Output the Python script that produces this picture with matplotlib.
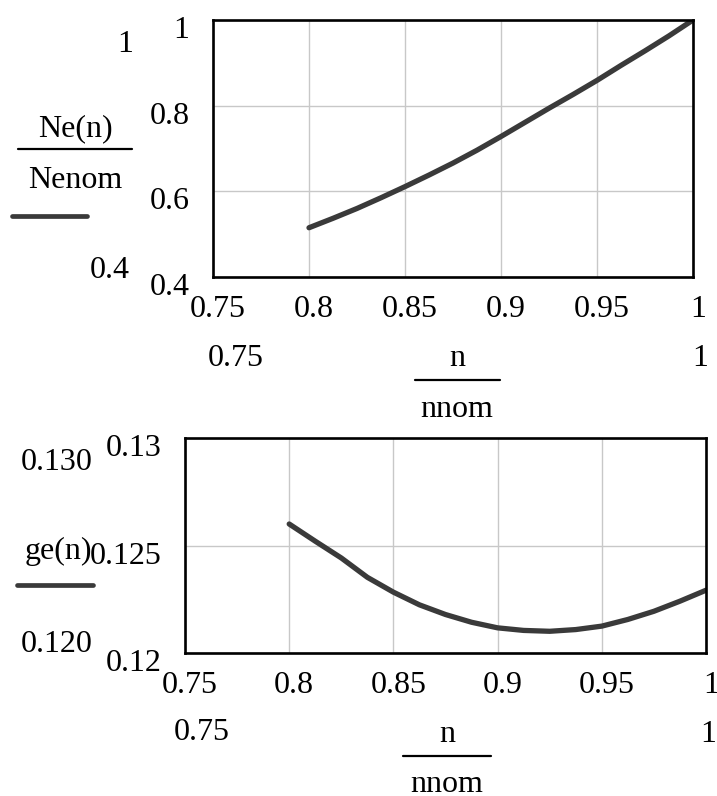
import matplotlib
matplotlib.use("Agg")
import matplotlib.pyplot as plt
from matplotlib.transforms import ScaledTranslation

# ---- data ----
n_rel = [0.8, 0.8125, 0.825, 0.8375, 0.85, 0.8625, 0.875, 0.8875, 0.9,
         0.9125, 0.925, 0.9375, 0.95, 0.9625, 0.975, 0.9875, 1.0]
ne_rel = [0.515, 0.537, 0.560, 0.585, 0.611, 0.638, 0.666, 0.696, 0.728,
          0.761, 0.794, 0.826, 0.859, 0.894, 0.928, 0.963, 1.000]
ge_vals = [0.12600, 0.12520, 0.12442, 0.12352, 0.12283, 0.12224, 0.12179, 0.12143, 0.12117,
           0.12105, 0.12101, 0.12109, 0.12125, 0.12156, 0.12194, 0.12241, 0.12292]

x_ticks = [0.75, 0.8, 0.85, 0.9, 0.95, 1.0]
x_ticklabels = ["0.75", "0.8", "0.85", "0.9", "0.95", "1"]
y1_ticks = [0.4, 0.6, 0.8, 1.0]
y1_ticklabels = ["0.4", "0.6", "0.8", "1"]
y2_ticks = [0.12, 0.125, 0.13]
y2_ticklabels = ["0.12", "0.125", "0.13"]

W, H, DPI = 717, 796, 100
plt.rcParams['font.family'] = ['Liberation Serif', 'DejaVu Serif']
FS = 23
LINE_C = "#3a3a3a"

fig = plt.figure(figsize=(W / DPI, H / DPI), dpi=DPI)


def px_axes(l, t, r, b):
    return fig.add_axes([l / W, 1 - b / H, (r - l) / W, (b - t) / H])


def ftext(x, y, s, **kw):
    fig.text(x / W, 1 - y / H, s, fontsize=FS, ha='center', va='center', **kw)


def fline(x0, x1, y, lw, color):
    fig.add_artist(plt.Line2D([x0 / W, x1 / W], [1 - y / H, 1 - y / H],
                              transform=fig.transFigure, lw=lw, color=color,
                              solid_capstyle='round'))


def style(ax, xt, xtl, yt, ytl, ylim):
    ax.set_xlim(0.75, 1.0)
    ax.set_ylim(*ylim)
    ax.set_xticks(xt)
    ax.set_xticklabels(xtl, fontsize=FS)
    ax.set_yticks(yt)
    ax.set_yticklabels(ytl, fontsize=FS)
    ax.tick_params(length=0)
    ax.tick_params(axis='x', pad=13)
    ax.tick_params(axis='y', pad=17)
    ax.grid(True, color="#c8c8c8", lw=1.0)
    ax.set_axisbelow(True)
    for sp in ax.spines.values():
        sp.set_linewidth(1.9)
        sp.set_color("black")
    for lab in ax.get_xticklabels():
        lab.set_transform(lab.get_transform() + ScaledTranslation(5 / DPI, 0, fig.dpi_scale_trans))
    for lab in ax.get_yticklabels():
        lab.set_transform(lab.get_transform() + ScaledTranslation(0, -7 / DPI, fig.dpi_scale_trans))


# ---- top chart ----
ax1 = px_axes(213, 20, 693, 277)
ax1.plot(n_rel, ne_rel, color=LINE_C, lw=3.8, solid_capstyle='round')
style(ax1, x_ticks, x_ticklabels, y1_ticks, y1_ticklabels, (0.4, 1.0))

ftext(125, 45, "1")
ftext(75, 129, "Ne(n)")
fline(18, 132, 149, 1.6, "black")
ftext(75, 180, "Nenom")
fline(12, 87, 216, 3.4, LINE_C)
ftext(110, 271, "0.4")

ftext(236, 358, "0.75")
ftext(457, 358, "n")
fline(415, 500, 380, 1.6, "black")
ftext(457, 410, "nnom")
ftext(700, 358, "1")

# ---- bottom chart ----
ax2 = px_axes(185, 438, 706, 653)
ax2.plot(n_rel, ge_vals, color=LINE_C, lw=3.8, solid_capstyle='round')
style(ax2, x_ticks, x_ticklabels, y2_ticks, y2_ticklabels, (0.12, 0.13))

ftext(57, 463, "0.130")
ftext(58, 551, "ge(n)")
fline(17, 93, 585, 3.4, LINE_C)
ftext(57, 645, "0.120")

ftext(202, 733, "0.75")
ftext(447, 735, "n")
fline(403, 491, 756, 1.6, "black")
ftext(447, 784, "nnom")
ftext(708, 735, "1")

fig.savefig("out.png", dpi=DPI)
